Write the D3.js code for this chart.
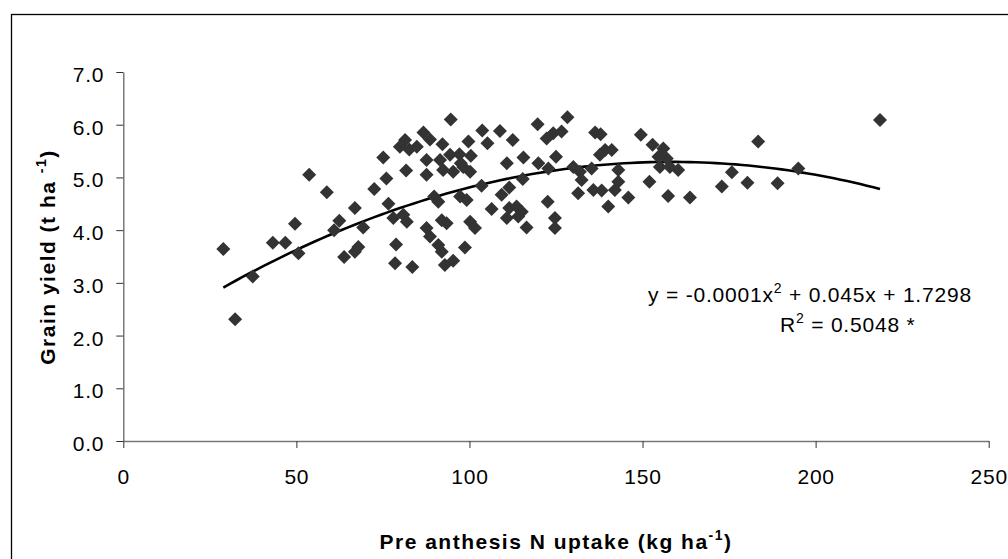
<!DOCTYPE html>
<html><head><meta charset="utf-8">
<script src="https://cdn.jsdelivr.net/npm/d3@7"></script>
<style>
body{margin:0;background:#fff}
svg{display:block}
text{font-family:"Liberation Sans",Arial,sans-serif;fill:#000}
</style>
</head><body>
<svg id="c" width="1008" height="559"></svg>
<script>
// Pre anthesis N uptake (kg ha-1)
const nUptake = [28.9,32.3,37.4,43.2,46.8,49.6,50.6,53.7,58.8,60.9,62.4,63.8,66.9,66.9,67.9,69.3,72.5,75.1,76.0,
  94.6,119.7,103.7,108.8,86.7,88.6,81.4,79.9,82.6,84.8,92.2,99.7,105.2,112.5,122.3,124.2,126.6,
  87.6,91.5,94.4,97.1,100.4,115.6,125.0,110.8,119.9,122.8,81.7,92.4,95.3,98.2,100.2,97.5,87.6,
  115.4,103.5,111.5,89.8,91.0,97.3,99.2,109.3,76.6,122.6,106.4,111.5,113.6,115.1,110.8,114.1,
  78.0,80.9,81.9,92.0,93.4,100.2,101.6,124.7,124.7,116.5,87.6,88.6,78.8,91.0,92.0,98.7,78.5,83.5,92.9,95.3,
  128.3,136.3,137.9,149.5,152.9,183.4,156.0,139.2,141.1,137.7,154.6,157.0,130.0,131.9,135.3,143.0,
  155.0,157.9,160.3,175.8,132.4,143.0,152.0,142.0,131.4,135.8,138.2,172.9,180.3,145.9,157.4,163.7,140.1,
  218.6,189.0,195.0];
// Grain yield (t ha-1)
const grainYield = [3.64,2.31,3.12,3.76,3.76,4.12,3.56,5.05,4.72,4.00,4.18,3.49,4.42,3.59,3.68,4.05,4.78,5.38,4.98,
  6.10,6.01,5.89,5.88,5.85,5.72,5.71,5.58,5.53,5.58,5.63,5.68,5.65,5.71,5.74,5.84,5.87,
  5.33,5.33,5.43,5.44,5.41,5.38,5.39,5.27,5.27,5.17,5.13,5.14,5.11,5.20,5.11,5.27,5.05,
  4.97,4.84,4.81,4.64,4.54,4.64,4.57,4.67,4.50,4.54,4.40,4.42,4.45,4.35,4.23,4.26,
  4.23,4.29,4.16,4.19,4.13,4.16,4.04,4.23,4.04,4.05,4.04,3.88,3.73,3.72,3.59,3.67,3.37,3.30,3.34,3.42,
  6.14,5.85,5.82,5.81,5.62,5.68,5.55,5.52,5.52,5.43,5.39,5.36,5.20,5.11,5.17,5.14,
  5.20,5.20,5.14,5.10,4.95,4.92,4.92,4.76,4.70,4.76,4.75,4.83,4.90,4.62,4.65,4.62,4.45,
  6.09,4.89,5.17];
const xTicks = [0,50,100,150,200,250];
const yTicks = [0,1,2,3,4,5,6,7];
// polynomial trendline coefficients (c0, c1, c2) as shown in the label
const trendCoef = [1.7298, 0.045, -0.000142];
const xTitle = ["Pre anthesis N uptake (kg ha", "-1", ")"];
const yTitle = ["Grain yield (t ha ", "-1", ")"];
const eqLine1 = ["y = -0.0001x", "2", " + 0.045x + 1.7298"];
const eqLine2 = ["R", "2", " = 0.5048 *"];

const svg = d3.select("#c");
const x = d3.scaleLinear().domain([0,250]).range([123.3,988.7]);
const y = d3.scaleLinear().domain([0,7]).range([441,72]);

// outer frame (right/bottom edges cropped off in the reference)
svg.append("rect").attr("x",11.5).attr("y",14.5).attr("width",1100).attr("height",700)
  .attr("fill","none").attr("stroke","#000").attr("stroke-width",1.3);

// y axis
const gy = svg.append("g").attr("transform","translate(123.3,0)")
  .call(d3.axisLeft(y).tickValues(yTicks).tickFormat(d3.format(".1f")).tickSize(7).tickSizeOuter(0).tickPadding(12));
gy.select(".domain").attr("stroke","#666").attr("stroke-width",1.3);
gy.selectAll(".tick line").attr("stroke","#333");
gy.selectAll(".tick text").attr("font-size",21).attr("letter-spacing","0.8px").attr("dy","0.45em").attr("fill","#000").attr("font-family",null);

// x axis
const gx = svg.append("g").attr("transform","translate(0,441)")
  .call(d3.axisBottom(x).tickValues(xTicks).tickFormat(d3.format("d")).tickSize(7).tickSizeOuter(0));
gx.select(".domain").attr("stroke","#777").attr("stroke-width",1.6);
gx.selectAll(".tick line").attr("stroke","#333");
gx.selectAll(".tick text").attr("font-size",21).attr("letter-spacing","0.8px").attr("y",43).attr("dy",0).attr("fill","#000").attr("font-family",null);

// trendline over the data range
const [xmin,xmax] = d3.extent(nUptake);
const trend = d3.range(0,101).map(i=>{ const xv=xmin+(xmax-xmin)*i/100; return [xv, trendCoef[0]+trendCoef[1]*xv+trendCoef[2]*xv*xv]; });
svg.append("path").datum(trend).attr("fill","none").attr("stroke","#000").attr("stroke-width",2.6)
  .attr("d", d3.line().x(d=>x(d[0])).y(d=>y(d[1])));

// points (diamonds)
const diamond = "M0,-7L7,0L0,7L-7,0Z";
svg.append("g").selectAll("path").data(nUptake.map((v,i)=>[v,grainYield[i]])).join("path")
  .attr("d",diamond).attr("fill","#333")
  .attr("transform",d=>`translate(${x(d[0])},${y(d[1])})`);

// trendline labels
function supText(sel, parts, supSize, supDy){
  sel.append("tspan").text(parts[0]);
  sel.append("tspan").attr("font-size",supSize).attr("dy",supDy).text(parts[1]);
  sel.append("tspan").attr("dy",-supDy).text(parts[2]);
}
const e1 = svg.append("text").attr("x",648).attr("y",301.7).attr("font-size",21).attr("letter-spacing","0.8px");
supText(e1, eqLine1, 14, -9);
const e2 = svg.append("text").attr("x",780).attr("y",331.7).attr("font-size",21).attr("letter-spacing","0.8px");
supText(e2, eqLine2, 14, -9);

// axis titles
const xt = svg.append("text").attr("x",556).attr("y",549).attr("text-anchor","middle")
  .attr("font-size",21).attr("font-weight","bold").attr("letter-spacing","1.5px");
supText(xt, xTitle, 14, -9);
const yt = svg.append("text").attr("transform","translate(55,257) rotate(-90)").attr("text-anchor","middle")
  .attr("font-size",21).attr("font-weight","bold").attr("letter-spacing","1.5px");
supText(yt, yTitle, 14, -9);
</script>
</body></html>
